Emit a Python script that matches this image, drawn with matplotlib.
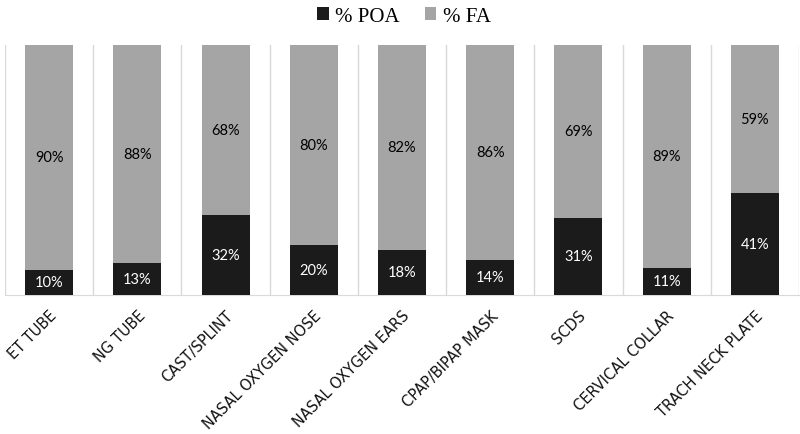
import matplotlib
matplotlib.use("Agg")
import matplotlib.pyplot as plt
from matplotlib.patches import Patch
import numpy as np

categories = ["ET TUBE", "NG TUBE", "CAST/SPLINT", "NASAL OXYGEN NOSE", "NASAL OXYGEN EARS",
              "CPAP/BIPAP MASK", "SCDS", "CERVICAL COLLAR", "TRACH NECK PLATE"]
poa = [10, 13, 32, 20, 18, 14, 31, 11, 41]
fa = [90, 88, 68, 80, 82, 86, 69, 89, 59]

dark = "#1b1b1b"
gray = "#a5a5a5"

fig = plt.figure(figsize=(8, 4.35), dpi=100)
ax = fig.add_axes([5/800, (435-296)/435, 794/800, 250/435])

x = np.arange(len(categories))
poa_a = np.array(poa, float)
fa_a = np.array(fa, float)
tot = poa_a + fa_a
poa_f = poa_a / tot
fa_f = fa_a / tot
w = 0.545
ax.bar(x, poa_f, width=w, color=dark, zorder=3)
ax.bar(x, fa_f, width=w, bottom=poa_f, color=gray, zorder=3)

for i in range(len(categories)):
    ax.text(x[i], poa_f[i] / 2, f"{poa[i]}%", ha="center", va="center", color="white",
            fontsize=10.5, family="Lato", zorder=4)
    ax.text(x[i], poa_f[i] + fa_f[i] / 2, f"{fa[i]}%", ha="center", va="center", color="black",
            fontsize=10.5, family="Lato", zorder=4)

for b in np.arange(len(categories) + 1) - 0.5:
    ax.axvline(b, color="#d9d9d9", lw=1, zorder=1)

ax.set_xlim(-0.5, len(categories) - 0.5)
ax.set_ylim(0, 1)
for s in ["top", "left", "right"]:
    ax.spines[s].set_visible(False)
ax.spines["bottom"].set_color("#d9d9d9")
ax.set_yticks([])
ax.set_xticks(x)
ax.set_xticklabels(categories, rotation=45, ha="right", rotation_mode="anchor",
                   fontsize=10.5, family="DejaVu Sans", color="#111111")
ax.tick_params(axis="x", length=0, pad=9)

handles = [Patch(facecolor=dark, label="% POA"), Patch(facecolor=gray, label="% FA")]
fig.legend(handles=handles, loc="upper center", bbox_to_anchor=(0.505, 1.025), ncol=2,
           frameon=False, handlelength=0.55, handleheight=0.55, handletextpad=0.3,
           columnspacing=1.2, prop={"family": "Liberation Serif", "size": 15})

fig.savefig("out.png", dpi=100)
